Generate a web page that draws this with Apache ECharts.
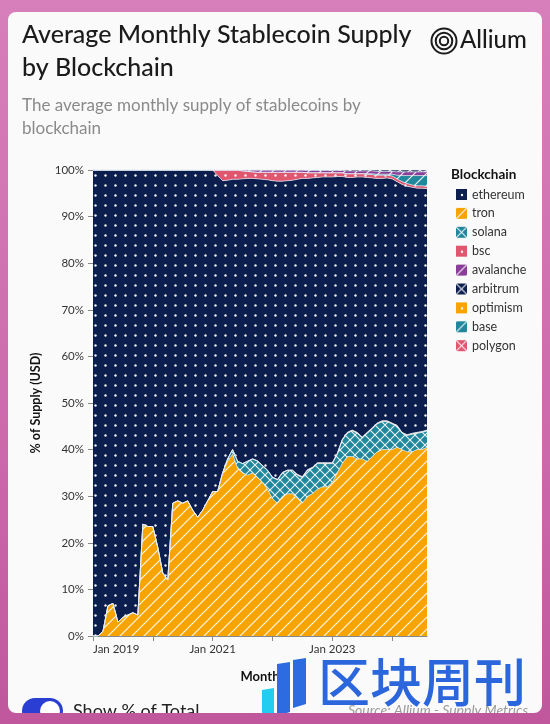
<!DOCTYPE html>
<html>
<head>
<meta charset="utf-8">
<script src="https://cdn.jsdelivr.net/npm/echarts@6/dist/echarts.min.js"></script>
<style>
  html, body { margin: 0; padding: 0; width: 550px; height: 724px; overflow: hidden;
    background: linear-gradient(180deg, #d77fba 0%, #cc6aac 60%, #c0579c 100%); }
  #card { position: absolute; left: 8px; top: 12px; width: 534px; height: 701px;
    background: #fafafa; border-radius: 8px; overflow: hidden; }
  #chart { position: absolute; left: -8px; top: -12px; width: 550px; height: 724px; }
</style>
</head>
<body>
<div id="card"><div id="chart"></div></div>
<script>
// ---------- DATA (percent of total supply, monthly) ----------
const months = [
  '2019-01','2019-02','2019-03','2019-04','2019-05','2019-06','2019-07','2019-08','2019-09','2019-10','2019-11','2019-12',
  '2020-01','2020-02','2020-03','2020-04','2020-05','2020-06','2020-07','2020-08','2020-09','2020-10','2020-11','2020-12',
  '2021-01','2021-02','2021-03','2021-04','2021-05','2021-06','2021-07','2021-08','2021-09','2021-10','2021-11','2021-12',
  '2022-01','2022-02','2022-03','2022-04','2022-05','2022-06','2022-07','2022-08','2022-09','2022-10','2022-11','2022-12',
  '2023-01','2023-02','2023-03','2023-04','2023-05','2023-06','2023-07','2023-08','2023-09','2023-10','2023-11','2023-12',
  '2024-01','2024-02','2024-03','2024-04','2024-05','2024-06','2024-07','2024-08'
];
const tron = [
  0,0,1,6.5,7,3,4,4.5,5,4.5,24,23.5,
  23.5,19,13.5,12,28.5,29,28.5,29,27,25.5,27,29,
  31,31,35,37.5,39,36,35,34.5,35,34,33,31.5,
  29.5,28.5,30,30.5,30.5,29.5,28.5,30,30.5,31.5,32,32,
  33,35,37,38.5,38.5,38,38,37.5,38.5,39.5,40,40,
  40,40.5,40,39.5,39.5,40,40,40.5
];
const solana = [
  0,0,0,0,0,0,0,0,0,0,0,0,
  0,0,0,0,0,0,0,0,0,0,0,0,
  0,0,0,0.5,1,1.5,2,3,3,3.5,3.5,4,
  4.5,5,5,5,5,5,5.5,5.5,5.5,5.5,5,5,
  4,4,5,5,5.5,5.5,4.5,6,6,6,6,6,
  5.5,4.5,3.5,3.5,3.8,3.5,3.7,3.5
];
const polygon = [
  0,0,0,0,0,0,0,0,0,0,0,0,
  0,0,0,0,0,0,0,0,0,0,0,0,
  0,0,0,0,0,0,0,0,0,0.1,0.1,0.1,
  0.1,0.1,0.1,0.1,0.1,0.1,0.1,0.1,0.1,0.1,0.1,0.1,
  0.1,0.1,0.1,0.1,0.1,0.1,0.1,0.1,0.1,0.1,0.1,0.1,
  0.1,0.1,0.1,0.1,0.1,0.1,0.1,0.1
];
const optimism = [
  0,0,0,0,0,0,0,0,0,0,0,0,
  0,0,0,0,0,0,0,0,0,0,0,0,
  0,0,0,0,0,0,0,0,0,0,0,0,
  0,0,0,0,0,0.1,0.1,0.1,0.1,0.1,0.1,0.1,
  0.1,0.1,0.1,0.1,0.1,0.1,0.1,0.1,0.1,0.1,0.1,0.1,
  0.1,0.1,0.1,0.1,0.1,0.1,0.1,0.1
];
const ethereum = [
  100,100,99,93.5,93,97,96,95.5,95,95.5,76,76.5,
  76.5,81,86.5,88,71.5,71,71.5,71,73,74.5,73,71,
  69,67.8,62.7,59.8,58,60.5,61.1,60.7,60.2,60.5,61.4,62.3,
  63.6,64,62.5,62.1,62.2,63.3,64,62.5,62.1,61.2,61.3,61.3,
  61.3,59.4,56.4,54.7,54.2,54.8,55.8,54.7,53.6,52.5,52,52.1,
  52.4,52.3,53.2,53.3,52.8,52.4,52.2,51.8
];
const bsc = [
  0,0,0,0,0,0,0,0,0,0,0,0,
  0,0,0,0,0,0,0,0,0,0,0,0,
  0,1.2,2.3,2.2,2.0,2.0,1.7,1.5,1.4,1.4,1.5,1.6,
  1.8,1.9,1.9,1.8,1.7,1.5,1.3,1.2,1.1,1.0,0.9,0.9,
  0.9,0.8,0.8,0.8,0.8,0.7,0.7,0.7,0.7,0.7,0.7,0.6,
  0.6,0.6,0.6,0.6,0.5,0.5,0.5,0.5
];
const base = [
  0,0,0,0,0,0,0,0,0,0,0,0,
  0,0,0,0,0,0,0,0,0,0,0,0,
  0,0,0,0,0,0,0,0,0,0,0,0,
  0,0,0,0,0,0,0,0,0,0,0,0,
  0,0,0,0,0,0,0,0.1,0.2,0.2,0.2,0.2,
  0.4,0.8,1.3,1.7,2.0,2.2,2.2,2.3
];
const avalanche = [
  0,0,0,0,0,0,0,0,0,0,0,0,
  0,0,0,0,0,0,0,0,0,0,0,0,
  0,0,0,0,0,0,0.2,0.3,0.4,0.5,0.5,0.5,
  0.5,0.5,0.5,0.5,0.5,0.5,0.5,0.5,0.5,0.5,0.5,0.5,
  0.5,0.5,0.5,0.6,0.6,0.6,0.6,0.6,0.6,0.6,0.6,0.6,
  0.6,0.7,0.8,0.8,0.8,0.8,0.8,0.8
];
const arbitrum = [
  0,0,0,0,0,0,0,0,0,0,0,0,
  0,0,0,0,0,0,0,0,0,0,0,0,
  0,0,0,0,0,0,0,0,0,0,0,0,
  0,0,0,0,0,0,0,0.1,0.1,0.1,0.1,0.1,
  0.1,0.1,0.1,0.2,0.2,0.2,0.2,0.2,0.2,0.3,0.3,0.3,
  0.3,0.4,0.4,0.4,0.4,0.4,0.4,0.4
];
const legendOrder = ['ethereum','tron','solana','bsc','avalanche','arbitrum','optimism','base','polygon'];
const yTicks = [0,10,20,30,40,50,60,70,80,90,100];
const monthNames = ['Jan','Feb','Mar','Apr','May','Jun','Jul','Aug','Sep','Oct','Nov','Dec'];

// ---------- STYLES ----------
const NAVY = '#0b1e4d', ORANGE = '#f7a400', TEAL = '#21879c', PINK = '#e0566f', PURPLE = '#8a3d99';
function makePattern(bg, kind, size) {
  const s = size || 10;
  const c = document.createElement('canvas'); c.width = s; c.height = s;
  const g = c.getContext('2d');
  g.fillStyle = bg; g.fillRect(0, 0, s, s);
  g.fillStyle = 'rgba(255,255,255,0.95)'; g.strokeStyle = 'rgba(255,255,255,0.9)';
  if (kind === 'dots') {
    g.beginPath(); g.arc(s / 2 + 0.5, s / 2 + 0.5, 1.2, 0, Math.PI * 2); g.fill();
  } else if (kind === 'stripes') {
    g.lineWidth = 1.2;
    g.beginPath();
    g.moveTo(-2, s + 2); g.lineTo(s + 2, -2);
    g.moveTo(-2, 2); g.lineTo(2, -2);
    g.moveTo(s - 2, s + 2); g.lineTo(s + 2, s - 2);
    g.stroke();
  } else {
    g.lineWidth = 1.1;
    g.beginPath();
    g.moveTo(-2, s + 2); g.lineTo(s + 2, -2);
    g.moveTo(-2, -2); g.lineTo(s + 2, s + 2);
    g.stroke();
  }
  return { image: c, repeat: 'repeat' };
}
const styles = {
  ethereum: [NAVY, 'dots', 10], tron: [ORANGE, 'stripes', 12], solana: [TEAL, 'cross', 10],
  bsc: [PINK, 'dots', 10], avalanche: [PURPLE, 'stripes', 12], arbitrum: [NAVY, 'cross', 10],
  optimism: [ORANGE, 'dots', 10], base: [TEAL, 'stripes', 12], polygon: [PINK, 'cross', 10]
};
const dataMap = { tron, solana, polygon, optimism, ethereum, bsc, base, avalanche, arbitrum };
// stacking order bottom -> top
const stackOrder = ['tron','solana','polygon','optimism','ethereum','bsc','base','avalanche','arbitrum'];

const series = stackOrder.map(name => ({
  name, type: 'line', stack: 'total', data: dataMap[name],
  showSymbol: false, symbol: 'none', smooth: false,
  lineStyle: { width: 0.8, color: 'rgba(230,238,245,0.85)' },
  itemStyle: { color: styles[name][0] },
  areaStyle: { color: makePattern(styles[name][0], styles[name][1], styles[name][2]), opacity: 1 },
  emphasis: { disabled: true }, silent: true
}));

const chart = echarts.init(document.getElementById('chart'), null, { renderer: 'canvas' });
const FONT = 'Lato, "Noto Sans", sans-serif';
chart.setOption({
  animation: false,
  textStyle: { fontFamily: FONT },
  grid: { left: 93, right: 123, top: 170, bottom: 88, containLabel: false },
  legend: {
    orient: 'vertical', left: 451, top: 183,
    itemWidth: 11, itemHeight: 11, itemGap: 5.9, icon: 'rect',
    textStyle: { fontSize: 12.5, color: '#333', fontFamily: FONT },
    selectedMode: false,
    data: legendOrder.map(n => ({ name: n, itemStyle: { color: makePattern(styles[n][0], styles[n][1], 11) } }))
  },
  xAxis: {
    type: 'category', data: months, boundaryGap: false,
    name: 'Month', nameLocation: 'middle', nameGap: 34,
    nameTextStyle: { fontSize: 13, fontWeight: 'bold', color: '#111', fontFamily: FONT },
    axisLine: { show: true, lineStyle: { color: '#888', width: 1 } },
    axisTick: { show: true, length: 5, interval: i => i % 12 === 0, lineStyle: { color: '#888' } },
    axisLabel: {
      interval: i => i % 24 === 0, fontSize: 11.5, color: '#333', margin: 7, alignMinLabel: 'left',
      formatter: v => monthNames[parseInt(v.slice(5), 10) - 1] + ' ' + v.slice(0, 4)
    },
    splitLine: { show: false }
  },
  yAxis: {
    type: 'value', min: yTicks[0], max: yTicks[yTicks.length - 1], interval: 10,
    name: '% of Supply (USD)', nameLocation: 'middle', nameGap: 51, nameRotate: 90,
    nameTextStyle: { fontSize: 12.5, fontWeight: 'bold', color: '#111', fontFamily: FONT },
    axisLine: { show: true, lineStyle: { color: '#888' } },
    axisTick: { show: true, length: 5, lineStyle: { color: '#888' } },
    axisLabel: { formatter: '{value}%', fontSize: 11.5, color: '#333', margin: 9 },
    splitLine: { show: false }
  },
  series,
  graphic: [
    { type: 'text', left: 22, top: 22, z: 10, style: { text: 'Average Monthly Stablecoin Supply', font: '500 25px ' + FONT, fill: '#1b1b1b' } },
    { type: 'text', left: 22, top: 55, z: 10, style: { text: 'by Blockchain', font: '500 25px ' + FONT, fill: '#1b1b1b' } },
    { type: 'text', left: 22, top: 97, z: 10, style: { text: 'The average monthly supply of stablecoins by', font: '17px ' + FONT, fill: '#8a8a8a' } },
    { type: 'text', left: 22, top: 120, z: 10, style: { text: 'blockchain', font: '17px ' + FONT, fill: '#8a8a8a' } },
    // Allium logo
    { type: 'circle', z: 10, shape: { cx: 444, cy: 41, r: 12.5 }, style: { fill: 'none', stroke: '#1b1b1b', lineWidth: 2 } },
    { type: 'circle', z: 10, shape: { cx: 444, cy: 41, r: 8.3 }, style: { fill: 'none', stroke: '#1b1b1b', lineWidth: 2 } },
    { type: 'circle', z: 10, shape: { cx: 444, cy: 41, r: 4.2 }, style: { fill: 'none', stroke: '#1b1b1b', lineWidth: 2 } },
    { type: 'text', left: 460, top: 28, z: 10, style: { text: 'Allium', font: '500 24px ' + FONT, fill: '#1b1b1b' } },
    // legend title
    { type: 'text', left: 451, top: 168, z: 10, style: { text: 'Blockchain', font: 'bold 13.5px ' + FONT, fill: '#111' } },
    // toggle
    { type: 'rect', z: 10, shape: { x: 22, y: 698, width: 41, height: 26, r: 13 }, style: { fill: '#2a3ed4' } },
    { type: 'circle', z: 11, shape: { cx: 50, cy: 711, r: 10 }, style: { fill: '#ffffff' } },
    { type: 'text', left: 73, top: 702, z: 10, style: { text: 'Show % of Total', font: '18px ' + FONT, fill: '#222' } },
    { type: 'text', right: 22, top: 703, z: 10, style: { text: 'Source: Allium - Supply Metrics', font: 'italic 14px ' + FONT, fill: '#9a9a9a' } },
    // watermark
    { type: 'polygon', z: 20, shape: { points: [[262,690],[274,688],[274,718],[262,718]] }, style: { fill: '#22cdef' } },
    { type: 'polygon', z: 20, shape: { points: [[277,664],[290,662],[290,712],[277,716]] }, style: { fill: '#2c6be0' } },
    { type: 'polygon', z: 20, shape: { points: [[293,660],[306,658],[306,704],[293,708]] }, style: { fill: '#2c6be0' } },
    { type: 'text', left: 318, top: 656, z: 20, style: { text: '区块周刊', font: '500 52px "Noto Sans CJK SC"', fill: '#2b66dd' } }
  ]
});
</script>
</body>
</html>
